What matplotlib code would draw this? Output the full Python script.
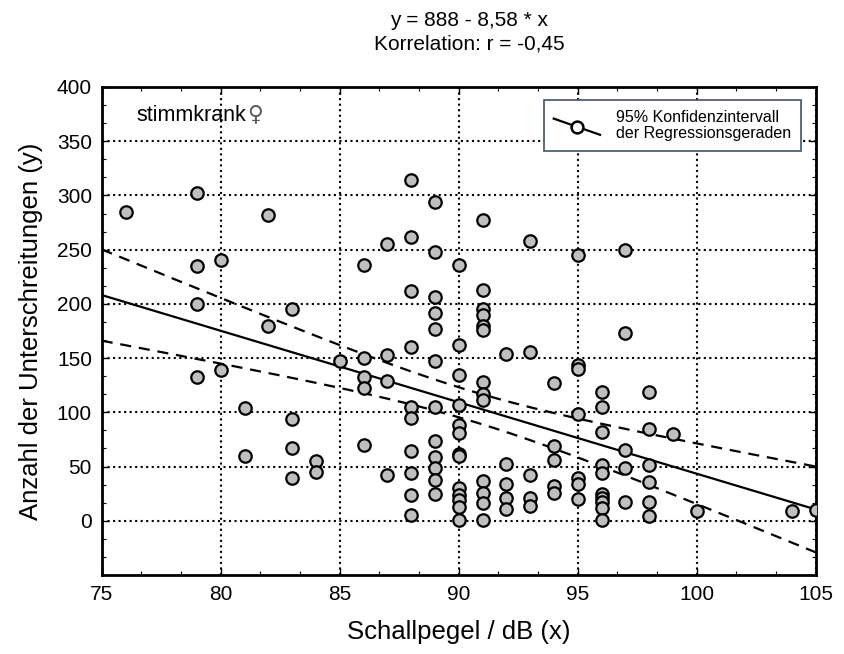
import numpy as np
import matplotlib.pyplot as plt
from matplotlib.lines import Line2D
from matplotlib.legend_handler import HandlerLine2D

plt.rcParams['font.family'] = ['Liberation Sans', 'DejaVu Sans']

# Schallpegel (x) und zugehoerige Anzahl der Unterschreitungen (y)
x_db = [76,
        79, 79, 79, 79,
        80, 80,
        81, 81,
        82, 82,
        83, 83, 83, 83,
        84, 84,
        85,
        86, 86, 86, 86, 86,
        87, 87, 87, 87,
        88, 88, 88, 88, 88, 88, 88, 88, 88, 88,
        89, 89, 89, 89, 89, 89, 89, 89, 89, 89, 89, 89,
        90, 90, 90, 90, 90, 90, 90, 90, 90, 90, 90, 90, 90,
        91, 91, 91, 91, 91, 91, 91, 91, 91, 91, 91, 91, 91,
        92, 92, 92, 92, 92,
        93, 93, 93, 93, 93,
        94, 94, 94, 94, 94,
        95, 95, 95, 95, 95, 95, 95,
        96, 96, 96, 96, 96, 96, 96, 96, 96, 96,
        97, 97, 97, 97, 97,
        98, 98, 98, 98, 98, 98,
        99, 100, 104, 105]
y_count = [285,
           302, 235, 200, 133,
           240, 139,
           104, 60,
           282, 180,
           195, 94, 67, 39,
           55, 45,
           147,
           236, 150, 133, 122, 70,
           255, 153, 129, 42,
           314, 262, 212, 160, 105, 95, 64, 44, 24, 5,
           294, 248, 206, 192, 177, 147, 105, 74, 59, 49, 38, 25,
           236, 162, 134, 107, 88, 81, 62, 60, 30, 24, 19, 13, 1,
           277, 213, 195, 190, 180, 176, 128, 117, 111, 37, 26, 16, 1,
           154, 52, 34, 21, 11,
           258, 156, 42, 21, 14,
           127, 69, 56, 32, 26,
           245, 144, 140, 98, 39, 34, 20,
           119, 105, 82, 51, 44, 25, 21, 17, 12, 1,
           250, 173, 65, 49, 17,
           119, 85, 51, 36, 17, 4,
           80, 9, 9, 10]

x = np.array(x_db, dtype=float)
y = np.array(y_count, dtype=float)

# Regressionsgerade und 95%-Konfidenzband
slope, intercept = np.polyfit(x, y, 1)
n = len(x)
resid = y - (intercept + slope * x)
s = np.sqrt(np.sum(resid**2) / (n - 2))
sxx = np.sum((x - x.mean())**2)
xs = np.linspace(75, 105, 200)
ys = intercept + slope * xs
half = 1.98 * s * np.sqrt(1.0 / n + (xs - x.mean())**2 / sxx)


class DiagHandler(HandlerLine2D):
    # schraege Linie mit offenem Kreis, wie im Original
    def create_artists(self, legend, orig_handle, xdescent, ydescent,
                       width, height, fontsize, trans):
        x0, x1 = -xdescent, -xdescent + width
        ln = Line2D([x0, x1], [height * 1.15 - ydescent, -height * 0.3 - ydescent],
                    color='black', lw=1.6)
        mk = Line2D([(x0 + x1) / 2], [height * 0.42 - ydescent], marker='o', ls='',
                    ms=8.5, mfc='white', mec='black', mew=1.8)
        ln.set_transform(trans)
        mk.set_transform(trans)
        return [ln, mk]


fig = plt.figure(figsize=(8.44, 6.54), dpi=100)
ax = fig.add_axes([0.1205, 0.1208, 0.846, 0.7462])

ax.plot(xs, ys, color='black', lw=1.6, zorder=3)
ax.plot(xs, ys + half, color='black', lw=1.6, ls=(0, (5, 3.5)), zorder=3)
ax.plot(xs, ys - half, color='black', lw=1.6, ls=(0, (5, 3.5)), zorder=3)
ax.scatter(x, y, s=80, facecolor='#bfbfbf', edgecolor='black', linewidths=1.6, zorder=4)

ax.set_xlim(75, 105)
ax.set_ylim(-50, 400)
ax.set_xticks(np.arange(75, 106, 5))
ax.set_yticks(np.arange(0, 401, 50))
ax.set_xticks(np.arange(75, 105.1, 5 / 3), minor=True)
ax.set_yticks(np.arange(-50, 400.1, 50 / 3), minor=True)
ax.tick_params(which='both', direction='in', top=True, right=True, labelsize=15)
ax.tick_params(which='major', length=5, width=1, pad=7)
ax.tick_params(which='minor', length=3, width=0.8)
ax.grid(True, which='major', color='black', ls=':', lw=1.5)
for sp in ax.spines.values():
    sp.set_linewidth(2)

ax.set_xlabel('Schallpegel / dB (x)', fontsize=18.5, labelpad=12)
ax.set_ylabel('Anzahl der Unterschreitungen (y)', fontsize=18.5, labelpad=10)

ax.text(0.049, 0.931, 'stimmkrank', transform=ax.transAxes, fontsize=15.5)
ax.text(0.203, 0.931, '\u2640', transform=ax.transAxes, fontsize=15.5,
        color='#555555', family=['DejaVu Sans'])

fig.text(0.556, 0.96, 'y = 888 - 8,58 * x', ha='center', va='baseline', fontsize=15)
fig.text(0.556, 0.924, 'Korrelation: r = -0,45', ha='center', va='baseline', fontsize=15)

handle = Line2D([], [], color='black')
leg = ax.legend([handle], ['95% Konfidenzintervall\nder Regressionsgeraden'],
                handler_map={handle: DiagHandler()},
                loc='upper right', bbox_to_anchor=(0.979, 0.973), borderaxespad=0,
                fontsize=11.5, fancybox=False, framealpha=1, edgecolor='#41546c',
                handlelength=2.9, handletextpad=1.0, borderpad=0.6)
leg.get_frame().set_linewidth(1.2)
for t in leg.get_texts():
    t.set_linespacing(1.12)

plt.savefig('out.png', dpi=100)
